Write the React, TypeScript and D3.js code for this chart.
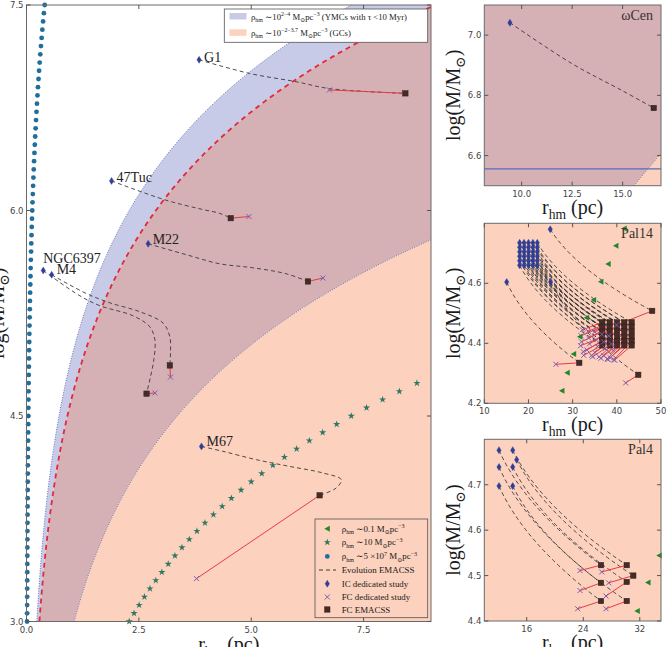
import React from 'react';
import * as d3 from 'd3';

type Pt = [number, number];

const SERIF = '"Liberation Serif", "DejaVu Serif", serif';
const SANS = '"DejaVu Sans", sans-serif';

const C_LAV = '#c8cbe7';
const C_MAUVE = '#d5b0b4';
const C_SALMON = '#fcd1bd';
const C_DOT = '#1f6e9c';
const C_STAR = '#2d7764';
const C_TRI = '#23862f';
const C_IC = '#2f3e96';
const C_FCD = '#7b5cb0';
const C_FC = '#4a2a24';
const C_RED = '#ea3a45';
const C_PATH = '#3a3a3a';

// half-mass density bands (Msun pc^-3)
const RHO_YMC_HI = 1e4;
const RHO_GC_HI = Math.pow(10, 3.7);
const RHO_YMC_LO = 1e2;

// rho_hm ~ 5e7 series
const DENSE_LOGM = [3.00, 3.06, 3.12, 3.18, 3.24, 3.30, 3.36, 3.42, 3.48, 3.54, 3.60, 3.66, 3.72, 3.78, 3.84, 3.90, 3.96, 4.02, 4.08, 4.14, 4.20, 4.26, 4.32, 4.38, 4.44, 4.50, 4.56, 4.62, 4.68, 4.74, 4.80, 4.86, 4.92, 4.98, 5.04, 5.10, 5.16, 5.22, 5.28, 5.34, 5.40, 5.46, 5.52, 5.58, 5.64, 5.70, 5.76, 5.82, 5.88, 5.94, 6.00, 6.06, 6.12, 6.18, 6.24, 6.30, 6.36, 6.42, 6.48, 6.54, 6.60, 6.66, 6.72, 6.78, 6.84, 6.90, 6.96, 7.02, 7.08, 7.14, 7.20, 7.26, 7.32, 7.38, 7.44, 7.50];
const DENSE_R = [0.0128, 0.0134, 0.0140, 0.0147, 0.0154, 0.0161, 0.0169, 0.0177, 0.0185, 0.0194, 0.0203, 0.0212, 0.0222, 0.0233, 0.0244, 0.0255, 0.0267, 0.0280, 0.0293, 0.0307, 0.0322, 0.0337, 0.0353, 0.0369, 0.0387, 0.0405, 0.0424, 0.0444, 0.0465, 0.0487, 0.0510, 0.0534, 0.0559, 0.0585, 0.0613, 0.0642, 0.0672, 0.0703, 0.0737, 0.0771, 0.0808, 0.0846, 0.0886, 0.0927, 0.0971, 0.1017, 0.1065, 0.1115, 0.1167, 0.1222, 0.1280, 0.1340, 0.1404, 0.1470, 0.1539, 0.1611, 0.1687, 0.1767, 0.1850, 0.1937, 0.2029, 0.2124, 0.2224, 0.2329, 0.2439, 0.2554, 0.2674, 0.2800, 0.2932, 0.3070, 0.3215, 0.3367, 0.3525, 0.3692, 0.3866, 0.4048];

// rho_hm ~ 10 series
const MID_LOGM = [3.00, 3.06, 3.12, 3.18, 3.24, 3.30, 3.36, 3.42, 3.48, 3.54, 3.60, 3.66, 3.72, 3.78, 3.84, 3.90, 3.96, 4.02, 4.08, 4.14, 4.20, 4.26, 4.32, 4.38, 4.44, 4.50, 4.56, 4.62, 4.68, 4.74];
const MID_R = [2.285, 2.393, 2.506, 2.624, 2.747, 2.877, 3.012, 3.154, 3.303, 3.459, 3.622, 3.792, 3.971, 4.158, 4.354, 4.559, 4.774, 4.999, 5.235, 5.481, 5.739, 6.010, 6.293, 6.590, 6.901, 7.226, 7.566, 7.923, 8.296, 8.687];

// rho_hm ~ 0.1 series
const LOW_R = [41.67, 39.8, 38.05, 36.4, 34.75, 33.17, 31.65, 30.23, 28.78, 27.58];
const LOW_LOGM = [4.783, 4.725, 4.664, 4.605, 4.544, 4.485, 4.422, 4.364, 4.302, 4.242];

interface Cluster { panel: string; ic: Pt; fc: Pt; fcd?: Pt; path?: Pt[]; name?: string; lx?: number; ly?: number; }

const NAMED: Cluster[] = [
  { panel: 'main', name: 'G1', ic: [3.84, 7.10], fc: [8.43, 6.855], fcd: [6.74, 6.88], lx: 5, ly: 2,
    path: [[3.84, 7.10], [4.97, 7.0], [6.0, 6.94], [6.74, 6.89], [8.43, 6.855]] },
  { panel: 'main', name: '47Tuc', ic: [1.893, 6.216], fc: [4.544, 5.944], fcd: [4.951, 5.956], lx: 5, ly: 1,
    path: [[1.893, 6.216], [3.078, 6.078], [3.856, 6.012], [4.3, 5.979], [4.544, 5.944]] },
  { panel: 'main', name: 'M22', ic: [2.707, 5.757], fc: [6.262, 5.482], fcd: [6.596, 5.507], lx: 4.5, ly: 0,
    path: [[2.707, 5.757], [3.56, 5.677], [4.3, 5.611], [5.033, 5.582], [5.782, 5.538], [6.262, 5.482]] },
  { panel: 'main', name: 'NGC6397', ic: [0.373, 5.562], fc: [2.671, 4.663], fcd: [2.856, 4.668], lx: 0, ly: -7.5,
    path: [[0.373, 5.562], [1.189, 5.377], [1.633, 5.305], [2.367, 5.232], [2.744, 5.151], [2.856, 5.057], [2.833, 4.911], [2.729, 4.743], [2.671, 4.663]] },
  { panel: 'main', name: 'M4', ic: [0.56, 5.531], fc: [3.189, 4.869], fcd: [3.204, 4.784], lx: 5, ly: -0.7,
    path: [[0.56, 5.531], [1.3, 5.399], [1.856, 5.326], [2.522, 5.261], [3.04, 5.178], [3.189, 5.078], [3.204, 4.962], [3.189, 4.869]] },
  { panel: 'main', name: 'M67', ic: [3.893, 4.278], fc: [6.522, 3.921], fcd: [3.782, 3.313], lx: 5, ly: 0,
    path: [[3.893, 4.278], [4.373, 4.242], [5.116, 4.181], [5.856, 4.132], [6.596, 4.084], [7.004, 4.035], [6.893, 3.975], [6.522, 3.921]] },
  { panel: 'wcen', ic: [9.42, 7.041], fc: [16.54, 6.758],
    path: [[9.42, 7.041], [12.5, 6.905], [15.0, 6.815], [16.54, 6.758]] },
];

const OMEGA_REF_LOGM = 6.556;

// Pal14 grid runs
const PAL14_IC_R = [18.0, 19.0, 20.0, 21.0, 22.0];
const PAL14_IC_LOGM = [4.735, 4.72, 4.705, 4.69, 4.675, 4.66];
const PAL14_FC_R = [36.7, 38.4, 40.05, 41.7, 43.35];
const PAL14_FC_LOGM = [4.47, 4.455, 4.439, 4.421, 4.408, 4.393];
const PAL14_FCD: Pt[] = [
  [32.2, 4.445], [33.5, 4.440], [35.0, 4.438], [36.6, 4.430], [38.2, 4.425],
  [31.9, 4.425], [33.6, 4.418], [35.3, 4.412], [37.0, 4.405], [38.8, 4.398],
  [32.0, 4.405], [33.8, 4.398], [35.6, 4.390], [37.4, 4.383], [39.2, 4.376],
  [31.8, 4.392], [33.2, 4.378], [35.0, 4.370], [37.0, 4.360], [38.5, 4.352],
  [32.4, 4.372], [34.3, 4.360], [36.0, 4.355], [37.8, 4.348], [39.3, 4.345],
  [32.5, 4.360], [34.5, 4.355], [36.4, 4.350], [38.0, 4.346], [39.5, 4.344],
];
const PAL14_EXTRA: Cluster[] = [
  { panel: 'pal14', ic: [24.93, 4.78], fc: [48.0, 4.508], fcd: [39.95, 4.461] },
  { panel: 'pal14', ic: [15.07, 4.604], fc: [31.5, 4.335], fcd: [26.2, 4.33] },
  { panel: 'pal14', ic: [25.0, 4.604], fc: [44.85, 4.295], fcd: [42.0, 4.268] },
];

// Pal4 runs
const PAL4_IC: Pt[] = [[12.08, 4.776], [12.08, 4.739], [12.08, 4.697], [14.02, 4.776], [14.02, 4.739], [14.02, 4.697], [14.58, 4.755]];
const PAL4_FC: Pt[] = [[26.51, 4.523], [26.51, 4.484], [26.51, 4.444], [30.15, 4.523], [30.15, 4.486], [30.15, 4.444], [31.08, 4.5]];
const PAL4_FCD: Pt[] = [[23.54, 4.511], [23.54, 4.467], [23.21, 4.427], [26.61, 4.508], [27.22, 4.455], [27.22, 4.427], [27.6, 4.484]];

const CLUSTERS: Cluster[] = [
  ...NAMED,
  ...PAL14_IC_LOGM.flatMap((m, j) => PAL14_IC_R.map((r, i) => ({
    panel: 'pal14', ic: [r, m] as Pt, fc: [PAL14_FC_R[i], PAL14_FC_LOGM[j]] as Pt, fcd: PAL14_FCD[j * 5 + i],
  }))),
  ...PAL14_EXTRA,
  ...PAL4_IC.map((ic, k) => ({ panel: 'pal4', ic, fc: PAL4_FC[k], fcd: PAL4_FCD[k] })),
];

interface PanelCfg {
  id: string; l: number; r: number; t: number; b: number;
  xd: [number, number]; yd: [number, number];
  xt: number[]; yt: number[]; xf: string; yf: string;
  title?: string; main?: boolean; refLine?: number;
}

const PANELS: PanelCfg[] = [
  { id: 'main', l: 26.5, r: 431, t: 5, b: 621.5, xd: [0, 9], yd: [3, 7.5], xt: [0, 2.5, 5, 7.5], yt: [3, 4.5, 6, 7.5], xf: '.1f', yf: '.1f', main: true },
  { id: 'wcen', l: 484.3, r: 661, t: 5, b: 185.7, xd: [8.15, 16.9], yd: [6.5, 7.1], xt: [10, 12.5, 15], yt: [6.6, 6.8, 7.0], xf: '.1f', yf: '.1f', title: 'ωCen', refLine: OMEGA_REF_LOGM },
  { id: 'pal14', l: 484.3, r: 661, t: 223.3, b: 403.3, xd: [10, 50], yd: [4.2, 4.8], xt: [10, 20, 30, 40, 50], yt: [4.2, 4.4, 4.6], xf: 'd', yf: '.1f', title: 'Pal14' },
  { id: 'pal4', l: 484.3, r: 661, t: 439.3, b: 621, xd: [10, 35], yd: [4.4, 4.8], xt: [16, 24, 32], yt: [4.4, 4.5, 4.6, 4.7], xf: 'd', yf: '.1f', title: 'Pal4' },
];

const rAt = (logM: number, rho: number) => Math.cbrt((3 * Math.pow(10, logM)) / (8 * Math.PI * rho));

const Diamond = ({ x, y }: { x: number; y: number }) => (
  <path d={`M${x},${y - 3.5}L${x + 2.2},${y}L${x},${y + 3.5}L${x - 2.2},${y}Z`} fill={C_IC} stroke={C_IC} strokeWidth={0.4} />
);
const Cross = ({ x, y }: { x: number; y: number }) => (
  <path d={`M${x - 2.5},${y - 2.5}L${x + 2.5},${y + 2.5}M${x - 2.5},${y + 2.5}L${x + 2.5},${y - 2.5}`} stroke={C_FCD} strokeWidth={1} />
);
const Square = ({ x, y }: { x: number; y: number }) => (
  <rect x={x - 2.7} y={y - 2.7} width={5.4} height={5.4} fill={C_FC} stroke="#222" strokeWidth={0.5} />
);
const TriLeft = ({ x, y }: { x: number; y: number }) => (
  <path d={`M${x - 3},${y}L${x + 2.5},${y - 3}L${x + 2.5},${y + 3}Z`} fill={C_TRI} />
);
const starPath = d3.symbol(d3.symbolStar, 16)()!;
const Star = ({ x, y }: { x: number; y: number }) => (
  <path d={starPath} transform={`translate(${x},${y})`} fill={C_STAR} />
);

type Seg = { t: string; s?: 'sub' | 'sup' };
function Rich({ x, y, segs, size, anchor = 'start', rotate }: { x: number; y: number; segs: Seg[]; size: number; anchor?: string; rotate?: number }) {
  let cur = 0;
  const small = size * 0.68;
  return (
    <text x={x} y={y} fontSize={size} fontFamily={SERIF} fill="#1a1a1a" textAnchor={anchor as any}
      transform={rotate ? `rotate(${rotate},${x},${y})` : undefined}>
      {segs.map((sg, i) => {
        const target = sg.s === 'sub' ? size * 0.25 : sg.s === 'sup' ? -size * 0.38 : 0;
        const dy = target - cur;
        cur = target;
        return <tspan key={i} dy={dy} fontSize={sg.s ? small : size}>{sg.t}</tspan>;
      })}
    </text>
  );
}

const RHM: Seg[] = [{ t: 'r' }, { t: 'hm', s: 'sub' }, { t: ' (pc)' }];
const LOGM: Seg[] = [{ t: 'log(M/M' }, { t: '⊙', s: 'sub' }, { t: ')' }];

function Panel({ p }: { p: PanelCfg }) {
  const x = d3.scaleLinear().domain(p.xd).range([p.l, p.r]);
  const y = d3.scaleLinear().domain(p.yd).range([p.b, p.t]);
  const clip = `clip-${p.id}`;
  const ms = d3.range(0, 241).map(i => p.yd[0] + ((p.yd[1] - p.yd[0]) * i) / 240);
  const band = (a: number, b: number | null) =>
    d3.area<number>().y(m => y(m)).x0(m => x(rAt(m, a))).x1(m => (b === null ? p.r + 20 : x(rAt(m, b))))(ms) || '';
  const edge = (rho: number) => d3.line<number>().x(m => x(rAt(m, rho))).y(m => y(m))(ms) || '';
  const inside = (pt: Pt) => pt[0] >= p.xd[0] && pt[0] <= p.xd[1] && pt[1] >= p.yd[0] && pt[1] <= p.yd[1];
  const curve = d3.line<Pt>().x(d => x(d[0])).y(d => y(d[1])).curve(d3.curveCatmullRom);
  const bez = (c: Cluster) => {
    const pa = d3.path();
    pa.moveTo(x(c.ic[0]), y(c.ic[1]));
    pa.quadraticCurveTo(x(c.ic[0] + 0.25 * (c.fc[0] - c.ic[0])), y(c.fc[1] + 0.5 * (c.ic[1] - c.fc[1])), x(c.fc[0]), y(c.fc[1]));
    return pa.toString();
  };
  const fx = d3.format(p.xf);
  const fy = d3.format(p.yf);
  const dense: Pt[] = p.main ? DENSE_R.map((r, i) => [r, DENSE_LOGM[i]]) : [];
  const mid: Pt[] = p.main ? MID_R.map((r, i) => [r, MID_LOGM[i]]) : [];
  const low: Pt[] = LOW_R.map((r, i) => [r, LOW_LOGM[i]]);
  const cl = CLUSTERS.filter(c => c.panel === p.id);
  const cx = (p.l + p.r) / 2;
  const cy = (p.t + p.b) / 2;
  return (
    <g>
      <defs>
        <clipPath id={clip}><rect x={p.l} y={p.t} width={p.r - p.l} height={p.b - p.t} /></clipPath>
      </defs>
      <rect x={p.l} y={p.t} width={p.r - p.l} height={p.b - p.t} fill="#fff" />
      <g clipPath={`url(#${clip})`}>
        <path d={band(RHO_YMC_HI, RHO_GC_HI)} fill={C_LAV} />
        <path d={band(RHO_GC_HI, RHO_YMC_LO)} fill={C_MAUVE} />
        <path d={band(RHO_YMC_LO, null)} fill={C_SALMON} />
        <path d={edge(RHO_YMC_HI)} fill="none" stroke="#5a68b0" strokeWidth={0.9} strokeDasharray="1,1.5" />
        <path d={edge(RHO_YMC_LO)} fill="none" stroke="#5a68b0" strokeWidth={0.9} strokeDasharray="1,1.5" />
        <path d={edge(RHO_GC_HI)} fill="none" stroke="#e3283a" strokeWidth={1.8} strokeDasharray="5,4" />
        {p.refLine !== undefined && (
          <line x1={p.l} x2={p.r} y1={y(p.refLine)} y2={y(p.refLine)} stroke="#5b6abf" strokeWidth={1.2} />
        )}
        {cl.map((c, i) => (
          <path key={`p${i}`} d={c.path ? curve(c.path) || '' : bez(c)} fill="none" stroke={C_PATH} strokeWidth={0.9} strokeDasharray="4,3" />
        ))}
        {cl.filter(c => c.fcd).map((c, i) => (
          <line key={`r${i}`} x1={x(c.fc[0])} y1={y(c.fc[1])} x2={x(c.fcd![0])} y2={y(c.fcd![1])} stroke={C_RED} strokeWidth={1} />
        ))}
      </g>
      {cl.filter(c => inside(c.fc)).map((c, i) => <Square key={`s${i}`} x={x(c.fc[0])} y={y(c.fc[1])} />)}
      {cl.filter(c => c.fcd && inside(c.fcd)).map((c, i) => <Cross key={`x${i}`} x={x(c.fcd![0])} y={y(c.fcd![1])} />)}
      {cl.filter(c => inside(c.ic)).map((c, i) => <Diamond key={`d${i}`} x={x(c.ic[0])} y={y(c.ic[1])} />)}
      {mid.filter(inside).map((d, i) => <Star key={`st${i}`} x={x(d[0])} y={y(d[1])} />)}
      {low.filter(inside).map((d, i) => <TriLeft key={`tr${i}`} x={x(d[0])} y={y(d[1])} />)}
      {dense.filter(inside).map((d, i) => <circle key={`dd${i}`} cx={x(d[0])} cy={y(d[1])} r={2.4} fill={C_DOT} />)}
      {cl.filter(c => c.name && inside(c.ic)).map((c, i) => (
        <text key={`n${i}`} x={x(c.ic[0]) + (c.lx || 0)} y={y(c.ic[1]) + (c.ly || 0)} fontSize={14} fontFamily={SERIF} fill="#222">{c.name}</text>
      ))}
      <rect x={p.l} y={p.t} width={p.r - p.l} height={p.b - p.t} fill="none" stroke="#6a6a6a" strokeWidth={1} />
      {p.xt.map(t => (
        <g key={`xt${t}`}>
          <line x1={x(t)} x2={x(t)} y1={p.b} y2={p.b - 4} stroke="#555" />
          <line x1={x(t)} x2={x(t)} y1={p.t} y2={p.t + 4} stroke="#555" />
          <text x={x(t)} y={p.b + 11} fontSize={8.5} fontFamily={SANS} fill="#444" textAnchor="middle">{fx(t)}</text>
        </g>
      ))}
      {p.yt.map(t => (
        <g key={`yt${t}`}>
          <line x1={p.l} x2={p.l + 4} y1={y(t)} y2={y(t)} stroke="#555" />
          <line x1={p.r} x2={p.r - 4} y1={y(t)} y2={y(t)} stroke="#555" />
          <text x={p.l - 3} y={y(t) + 3} fontSize={8.5} fontFamily={SANS} fill="#444" textAnchor="end">{fy(t)}</text>
        </g>
      ))}
      {p.title && (
        <text x={p.r - 8} y={p.t + 15} fontSize={14} fontFamily={SERIF} fill="#333" textAnchor="end">{p.title}</text>
      )}
      <Rich x={cx} y={p.b + (p.main ? 29 : 28)} segs={RHM} size={20} anchor="middle" />
      <Rich x={p.main ? 4 : p.l - 24} y={cy} segs={LOGM} size={20} anchor="middle" rotate={-90} />
    </g>
  );
}

function TopLegend() {
  const rows: { c: string; segs: Seg[] }[] = [
    { c: C_LAV, segs: [{ t: 'ρ' }, { t: 'hm', s: 'sub' }, { t: ' ∼10' }, { t: '2−4', s: 'sup' }, { t: '  M' }, { t: '⊙', s: 'sub' }, { t: 'pc' }, { t: '−3', s: 'sup' }, { t: '  (YMCs with τ <10 Myr)' }] },
    { c: C_SALMON, segs: [{ t: 'ρ' }, { t: 'hm', s: 'sub' }, { t: ' ∼10' }, { t: '−2−3.7', s: 'sup' }, { t: '  M' }, { t: '⊙', s: 'sub' }, { t: 'pc' }, { t: '−3', s: 'sup' }, { t: '  (GCs)' }] },
  ];
  return (
    <g>
      <rect x={224.3} y={9} width={203.4} height={33.3} fill="#fff" stroke="#555" strokeWidth={0.8} />
      {rows.map((r, i) => (
        <g key={i}>
          <rect x={229.5} y={13 + i * 16.3} width={17} height={6.5} fill={r.c} />
          <Rich x={251} y={19.5 + i * 16.3} segs={r.segs} size={8.7} />
        </g>
      ))}
    </g>
  );
}

function BottomLegend() {
  const mx = 327.3;
  const rowY = [528.7, 542.3, 556.4, 570, 583.7, 597, 609.5];
  const items: Seg[][] = [
    [{ t: 'ρ' }, { t: 'hm', s: 'sub' }, { t: ' ∼0.1 M' }, { t: '⊙', s: 'sub' }, { t: 'pc' }, { t: '−3', s: 'sup' }],
    [{ t: 'ρ' }, { t: 'hm', s: 'sub' }, { t: ' ∼10 M' }, { t: '⊙', s: 'sub' }, { t: 'pc' }, { t: '−3', s: 'sup' }],
    [{ t: 'ρ' }, { t: 'hm', s: 'sub' }, { t: ' ∼5 ×10' }, { t: '7', s: 'sup' }, { t: '  M' }, { t: '⊙', s: 'sub' }, { t: 'pc' }, { t: '−3', s: 'sup' }],
    [{ t: 'Evolution EMACSS' }],
    [{ t: 'IC dedicated study' }],
    [{ t: 'FC dedicated study' }],
    [{ t: 'FC EMACSS' }],
  ];
  return (
    <g>
      <rect x={315} y={519} width={112.7} height={98.7} fill="none" stroke="#555" strokeWidth={0.8} />
      <TriLeft x={mx} y={rowY[0]} />
      <Star x={mx} y={rowY[1]} />
      <circle cx={mx} cy={rowY[2]} r={2.4} fill={C_DOT} />
      <line x1={319} x2={336} y1={rowY[3]} y2={rowY[3]} stroke={C_PATH} strokeDasharray="4,3" />
      <Diamond x={mx} y={rowY[4]} />
      <Cross x={mx} y={rowY[5]} />
      <Square x={mx} y={rowY[6]} />
      {items.map((s, i) => <Rich key={i} x={341.7} y={rowY[i] + 3} segs={s} size={8.9} />)}
    </g>
  );
}

export default function App() {
  return (
    <svg width={666} height={647} style={{ position: 'absolute', left: 0, top: 0, background: '#fff' }}>
      {PANELS.map(p => <Panel key={p.id} p={p} />)}
      <TopLegend />
      <BottomLegend />
    </svg>
  );
}
